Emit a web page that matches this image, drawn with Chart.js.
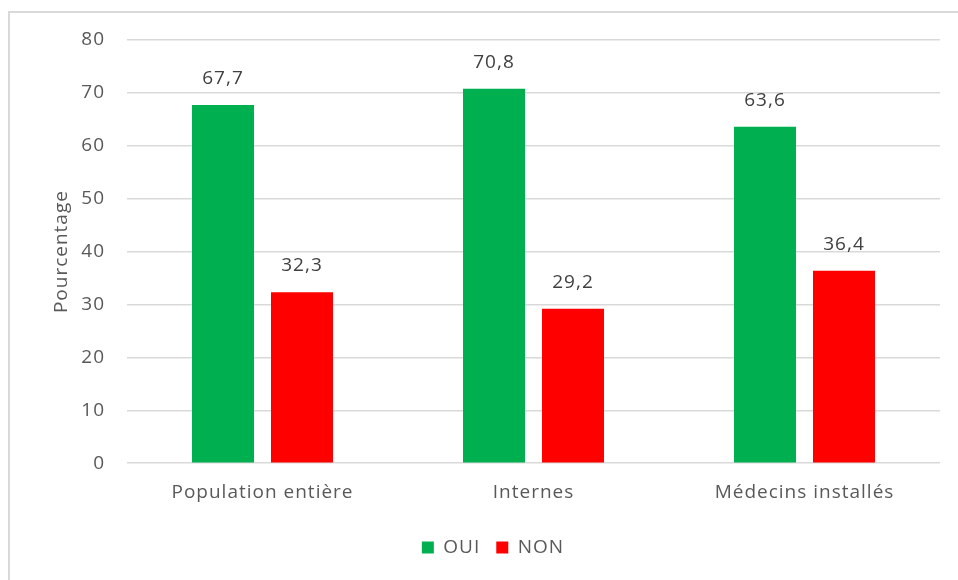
<!DOCTYPE html>
<html>
<head>
<meta charset="utf-8">
<script src="https://cdn.jsdelivr.net/npm/chart.js@4/dist/chart.umd.min.js"></script>
<style>
  html, body { margin: 0; padding: 0; background: #fff; }
  #wrap { position: relative; width: 958px; height: 580px; overflow: hidden; }
  #frame { position: absolute; left: 8px; top: 11px; width: 980px; height: 600px; border: 2px solid #d9d9d9; box-sizing: border-box; }
  canvas { position: absolute; left: 0; top: 0; }
</style>
</head>
<body>
<div id="wrap">
  <div id="frame"></div>
  <canvas id="c" width="958" height="580"></canvas>
</div>
<script>
const categories = ['Population entière', 'Internes', 'Médecins installés'];
const seriesNames = ['OUI', 'NON'];
const ouiValues = [67.7, 70.8, 63.6];
const nonValues = [32.3, 29.2, 36.4];
const yTicks = [0, 10, 20, 30, 40, 50, 60, 70, 80];

const FONT = "'Open Sans', sans-serif";
const TEXT = '#595959';

// Slightly open letter spacing for all canvas text
const spacing = {
  id: 'spacing',
  beforeLayout(chart) { chart.ctx.letterSpacing = '1px'; },
  beforeDraw(chart) { chart.ctx.letterSpacing = '1px'; }
};

// Centre the legend under the plot rather than the whole canvas
const legendShift = {
  id: 'legendShift',
  afterLayout(chart) {
    if (chart.legend) { chart.legend.left += 23; chart.legend.right += 23; }
  }
};

// Value labels above each bar, French decimal comma
const valueLabels = {
  id: 'valueLabels',
  afterDatasetsDraw(chart) {
    const ctx = chart.ctx;
    ctx.save();
    ctx.font = '19px ' + FONT;
    ctx.fillStyle = '#404040';
    ctx.textAlign = 'center';
    ctx.textBaseline = 'alphabetic';
    chart.data.datasets.forEach((ds, i) => {
      chart.getDatasetMeta(i).data.forEach((bar, j) => {
        const txt = ds.data[j].toFixed(1).replace('.', ',');
        ctx.fillText(txt, bar.x, bar.y - 21);
      });
    });
    ctx.restore();
  }
};

new Chart(document.getElementById('c'), {
  type: 'bar',
  data: {
    labels: categories,
    datasets: [
      { label: seriesNames[0], data: ouiValues, backgroundColor: '#00b050' },
      { label: seriesNames[1], data: nonValues, backgroundColor: '#ff0000' }
    ]
  },
  options: {
    responsive: false,
    animation: false,
    devicePixelRatio: 1,
    categoryPercentage: 0.583,
    barPercentage: 0.785,
    layout: { padding: { left: 0, right: 18, top: 40, bottom: 13 } },
    plugins: {
      tooltip: { enabled: false },
      legend: {
        position: 'bottom',
        labels: {
          font: { family: FONT, size: 19 },
          color: TEXT,
          boxWidth: 12,
          boxHeight: 12,
          padding: 16
        }
      }
    },
    scales: {
      x: {
        afterFit(s) { s.height += 8; },
        grid: { display: false },
        border: { display: false },
        ticks: { font: { family: FONT, size: 19 }, color: TEXT, padding: 10 }
      },
      y: {
        min: 0,
        max: 80,
        afterBuildTicks(s) { s.ticks = yTicks.map(v => ({ value: v })); },
        afterFit(s) { s.width = 127; },
        grid: { color: '#d9d9d9', lineWidth: 1.5, drawTicks: false },
        border: { display: false },
        ticks: { font: { family: FONT, size: 19 }, color: TEXT, padding: 22 },
        title: { display: true, text: 'Pourcentage', font: { family: FONT, size: 19 }, color: TEXT, padding: { top: 50, bottom: 0 } }
      }
    }
  },
  plugins: [spacing, legendShift, valueLabels]
});
</script>
</body>
</html>
